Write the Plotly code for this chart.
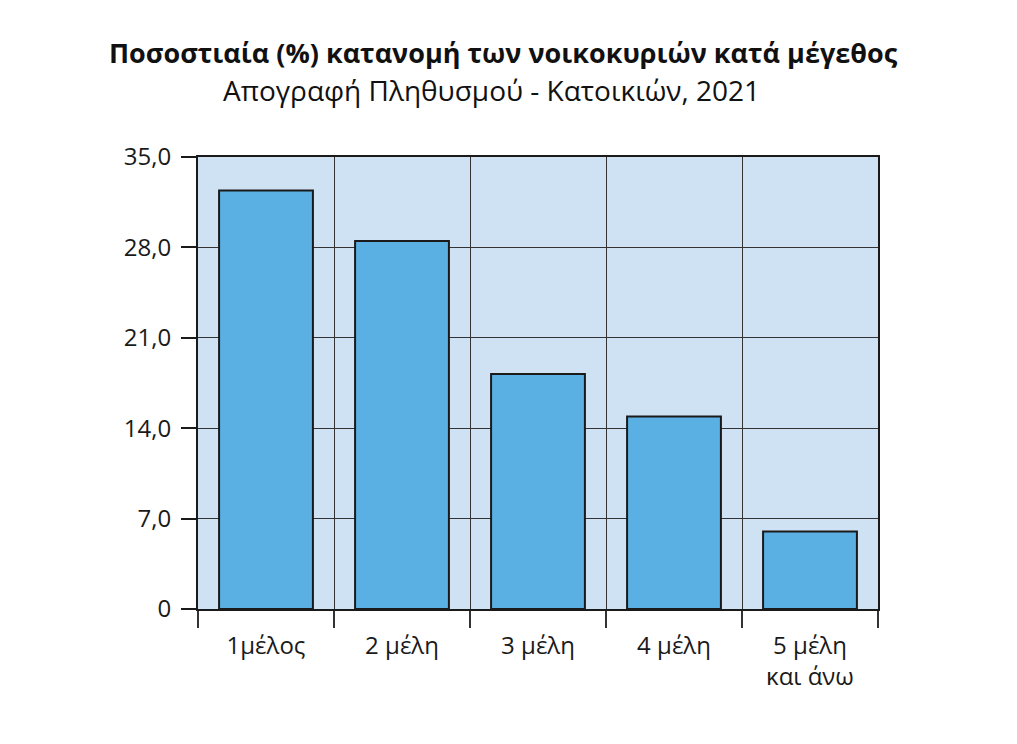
import plotly.graph_objects as go

# Household size categories and share (%)
categories = ["1μέλος", "2 μέλη", "3 μέλη", "4 μέλη", "5 μέλη<br>και άνω"]
shares = [32.4, 28.5, 18.2, 14.9, 6.0]

y_ticks = [0, 7, 14, 21, 28, 35]
y_tick_labels = ["0", "7,0", "14,0", "21,0", "28,0", "35,0"]

title = "Ποσοστιαία (%) κατανομή των νοικοκυριών κατά μέγεθος"
subtitle = "Απογραφή Πληθυσμού - Κατοικιών, 2021"

FONT = "Open Sans"

fig = go.Figure(
    go.Bar(
        x=categories,
        y=shares,
        marker=dict(color="#5aafe3", line=dict(color="#1a1a1a", width=2)),
        width=0.69,
    )
)

# page body adds 8px, so margins are shifted by that amount
fig.update_layout(
    width=1017,
    height=744,
    margin=dict(l=190, r=147, t=149, b=143),
    paper_bgcolor="white",
    plot_bgcolor="#cfe2f3",
    showlegend=False,
    font=dict(family=FONT, color="#1a1a1a", size=24),
    annotations=[
        dict(text="<b>" + title + "</b>", xref="paper", yref="paper",
             x=0.449, y=1.232, xanchor="center", yanchor="middle",
             showarrow=False, font=dict(size=27, color="#111")),
        dict(text=subtitle, xref="paper", yref="paper",
             x=0.431, y=1.148, xanchor="center", yanchor="middle",
             showarrow=False, font=dict(size=28, color="#111")),
    ],
)

fig.update_xaxes(
    type="category",
    tickson="boundaries",
    showgrid=True,
    gridcolor="#333333",
    gridwidth=1,
    ticks="outside",
    ticklen=17,
    tickwidth=2,
    tickcolor="#333333",
    showline=True,
    linecolor="#1a1a1a",
    linewidth=2,
    mirror=True,
    ticklabelstandoff=14,
    tickfont=dict(size=24),
)

fig.update_yaxes(
    range=[0, 35],
    tickmode="array",
    tickvals=y_ticks,
    ticktext=y_tick_labels,
    showgrid=True,
    gridcolor="#333333",
    gridwidth=1,
    zeroline=False,
    ticks="outside",
    ticklen=15,
    tickwidth=2,
    tickcolor="#1a1a1a",
    showline=True,
    linecolor="#1a1a1a",
    linewidth=2,
    mirror=True,
    ticklabelstandoff=5,
    tickfont=dict(size=24),
)

fig.write_html("out.html")
